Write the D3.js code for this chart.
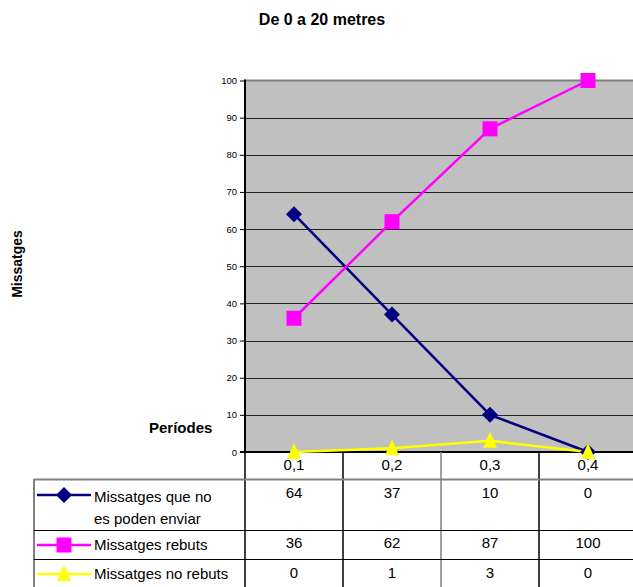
<!DOCTYPE html>
<html><head><meta charset="utf-8">
<script src="https://cdn.jsdelivr.net/npm/d3@7"></script>
<style>body{margin:0;background:#fff}svg{display:block;font-family:Arial,"Liberation Sans",sans-serif}</style>
</head><body><svg id="c" width="633" height="587"></svg>
<script>
const categories = ["0,1","0,2","0,3","0,4"];
const seriesNames = [["Missatges que no","es poden enviar"],["Missatges rebuts"],["Missatges no rebuts"]];
const noEnviar = [64,37,10,0];
const rebuts = [36,62,87,100];
const noRebuts = [0,1,3,0];
const yTicks = [0,10,20,30,40,50,60,70,80,90,100];
const colors = ["#000080","#FF00FF","#FFFF00"];
const series = [noEnviar, rebuts, noRebuts];

// marker shapes
const markerPaths = [
  "M0,-8L8,0L0,8L-8,0Z",
  "M-7.5,-7.5H7.5V7.5H-7.5Z",
  "M0,-9L7,7H-7Z"
];

const svg = d3.select("#c");
const L=245, R=637, T=80.5, B=452, W=633;
const x = d3.scaleBand().domain(categories).range([L,R]).padding(0);
const y = d3.scaleLinear().domain([0,100]).range([B,T]);

svg.append("rect").attr("x",L).attr("y",T).attr("width",R-L).attr("height",B-T).attr("fill","#C0C0C0");
// grid
svg.append("g").selectAll("line").data(yTicks.filter(d=>d>0&&d<100)).join("line")
  .attr("x1",L).attr("x2",R).attr("y1",d=>Math.round(y(d))+0.5).attr("y2",d=>Math.round(y(d))+0.5)
  .attr("stroke","#222").attr("stroke-width",1);
svg.append("line").attr("x1",L).attr("x2",R).attr("y1",T).attr("y2",T).attr("stroke","#808080").attr("stroke-width",2);

// y axis
const ya = svg.append("g").attr("transform",`translate(${L},0)`)
  .call(d3.axisLeft(y).tickValues(yTicks).tickSize(5).tickPadding(3));
ya.select(".domain").remove();
ya.selectAll("line").attr("stroke","#000");
ya.selectAll("text").attr("font-size",9.5).attr("fill","#000").attr("font-family","Arial,'Liberation Sans',sans-serif");
svg.append("line").attr("x1",L).attr("x2",L).attr("y1",T-1).attr("y2",B).attr("stroke","#000").attr("stroke-width",2);
svg.append("line").attr("x1",L-5).attr("x2",R).attr("y1",B).attr("y2",B).attr("stroke","#000").attr("stroke-width",2);

// lines
const cx = i => x(categories[i])+x.bandwidth()/2;
const line = d3.line().x((d,i)=>cx(i)).y(d=>y(d));
series.forEach((s,k)=>{
  svg.append("path").attr("d",line(s)).attr("fill","none").attr("stroke",colors[k]).attr("stroke-width",2.5);
});
series.forEach((s,k)=>{
  svg.append("g").selectAll("path").data(s).join("path")
   .attr("transform",(d,i)=>`translate(${cx(i)},${y(d)})`)
   .attr("d",markerPaths[k]).attr("fill",colors[k]);
});

// titles
svg.append("text").attr("x",322).attr("y",25).attr("text-anchor","middle").attr("font-weight","bold").attr("font-size",16).text("De 0 a 20 metres");
svg.append("text").attr("transform","translate(22,264) rotate(-90)").attr("text-anchor","middle").attr("font-weight","bold").attr("font-size",14).text("Missatges");
svg.append("text").attr("x",149).attr("y",433).attr("font-weight","bold").attr("font-size",15).text("Períodes");

// data table
const tbl = svg.append("g");
categories.forEach((c,i)=>{
  const xx = x(c);
  tbl.append("line").attr("x1",xx).attr("x2",xx).attr("y1",B).attr("y2",587)
    .attr("stroke", i===2?"#808080":"#000").attr("stroke-width",1.5);
});
tbl.append("line").attr("x1",34).attr("x2",34).attr("y1",479).attr("y2",587).attr("stroke","#808080").attr("stroke-width",2);
tbl.append("line").attr("x1",34).attr("x2",W).attr("y1",479.5).attr("y2",479.5).attr("stroke","#808080").attr("stroke-width",2);
[530.5,559.5].forEach(yy=>tbl.append("line").attr("x1",34).attr("x2",W).attr("y1",yy).attr("y2",yy).attr("stroke","#000").attr("stroke-width",1.2));
tbl.selectAll("text.cat").data(categories).join("text").attr("class","cat")
  .attr("x",d=>x(d)+x.bandwidth()/2).attr("y",470).attr("text-anchor","middle").attr("font-size",15).text(d=>d);
const rowY=[498,548,578];
const legY=[495,545,574];
const nameY=[[502,524],[550],[579]];
series.forEach((s,k)=>{
  tbl.selectAll(null).data(s).join("text")
    .attr("x",(d,i)=>cx(i)).attr("y",rowY[k]).attr("text-anchor","middle").attr("font-size",15).text(d=>d);
  tbl.append("line").attr("x1",37).attr("x2",91).attr("y1",legY[k]).attr("y2",legY[k]).attr("stroke",colors[k]).attr("stroke-width",2.5);
  tbl.append("path").attr("transform",`translate(64,${legY[k]})`).attr("d",markerPaths[k]).attr("fill",colors[k]);
  seriesNames[k].forEach((t,j)=>{
    tbl.append("text").attr("x",94).attr("y",nameY[k][j]).attr("font-size",15).text(t);
  });
});
</script></body></html>
